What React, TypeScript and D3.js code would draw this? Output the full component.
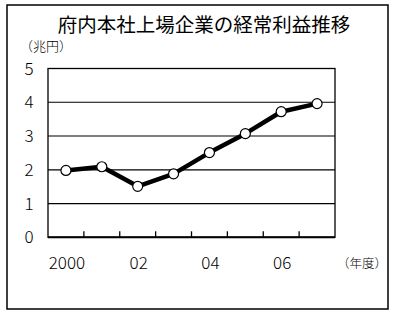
import React from "react";
import * as d3 from "d3";

const years = ["2000", "2001", "2002", "2003", "2004", "2005", "2006", "2007"];
const values = [1.98, 2.09, 1.51, 1.88, 2.51, 3.07, 3.72, 3.96];
const yTicks = [0, 1, 2, 3, 4, 5];
const xLabels: Record<string, string> = { "2000": "2000", "2002": "02", "2004": "04", "2006": "06" };

const W = 395;
const H = 314;
const plot = { left: 48, right: 335, top: 68.5, bottom: 237.3 };
const font = "'Noto Sans CJK JP', 'Liberation Sans', sans-serif";
const numFont = "'Noto Sans CJK JP', 'Liberation Sans', sans-serif";

export default function App() {
  const x = d3.scaleBand<string>().domain(years).range([plot.left, plot.right]);
  const y = d3.scaleLinear().domain([0, 5]).range([plot.bottom, plot.top]);
  const line = d3
    .line<number>()
    .x((_, i) => (x(years[i]) as number) + x.bandwidth() / 2)
    .y((d) => y(d));

  return (
    <svg
      width={W}
      height={H}
      style={{ position: "absolute", left: 0, top: 0, background: "#fff" }}
    >
      <rect x={0} y={0} width={W} height={H} fill="#fff" />
      <rect x={7} y={5} width={381} height={304} fill="none" stroke="#000" strokeWidth={1.5} />
      <text x={204} y={32} textAnchor="middle" fontFamily={font} fontSize={19.5} fill="#000">
        府内本社上場企業の経常利益推移
      </text>
      <text x={20} y={51} fontFamily={font} fontSize={13} fontWeight={300} fill="#000">
        （兆円）
      </text>
      {yTicks.map((t) => (
        <g key={t}>
          {t > 0 && t < 5 && (
            <line x1={plot.left} x2={plot.right} y1={y(t)} y2={y(t)} stroke="#000" strokeWidth={1.2} />
          )}
          <text
            x={29}
            y={y(t)}
            dy="0.36em"
            textAnchor="middle"
            fontFamily={numFont}
            fontWeight={300}
            fontSize={17}
            fill="#000"
          >
            {t}
          </text>
        </g>
      ))}
      <rect
        x={plot.left}
        y={plot.top}
        width={plot.right - plot.left}
        height={plot.bottom - plot.top}
        fill="none"
        stroke="#000"
        strokeWidth={1.3}
      />
      <line x1={plot.left} x2={plot.right} y1={plot.bottom} y2={plot.bottom} stroke="#000" strokeWidth={2} />
      {years.slice(1).map((yr) => (
        <line
          key={yr}
          x1={x(yr) as number}
          x2={x(yr) as number}
          y1={plot.bottom}
          y2={plot.bottom - 6}
          stroke="#000"
          strokeWidth={1.3}
        />
      ))}
      {years
        .filter((yr) => xLabels[yr])
        .map((yr) => (
          <text
            key={yr}
            x={(x(yr) as number) + x.bandwidth() / 2 + 1}
            y={269}
            textAnchor="middle"
            fontFamily={numFont}
            fontWeight={300}
            fontSize={17}
            fill="#000"
          >
            {xLabels[yr]}
          </text>
        ))}
      <text x={337} y={268} fontFamily={font} fontSize={12.5} fontWeight={300} fill="#000">
        （年度）
      </text>
      <path d={line(values) || ""} fill="none" stroke="#000" strokeWidth={4.5} strokeLinejoin="round" />
      {values.map((v, i) => (
        <circle
          key={i}
          cx={(x(years[i]) as number) + x.bandwidth() / 2}
          cy={y(v)}
          r={5}
          fill="#fff"
          stroke="#000"
          strokeWidth={1.2}
        />
      ))}
    </svg>
  );
}
